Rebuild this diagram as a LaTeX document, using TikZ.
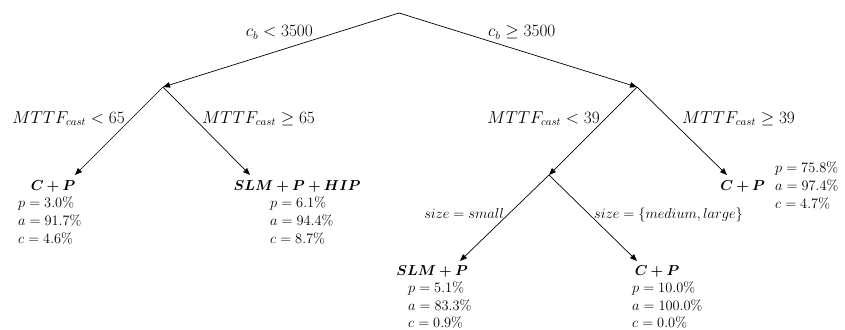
\documentclass[tikz,border=0pt]{standalone}
\usepackage{amsmath,amssymb,bm}
\usetikzlibrary{arrows.meta}
\begin{document}
\begin{tikzpicture}[x=1pt,y=-1pt,
  edge/.style={draw=black,line width=0.7pt,-{Triangle[length=7pt,width=5.5pt]}},
  lbl/.style={anchor=base,inner sep=0pt,font=\fontsize{16}{19}\selectfont},
  slbl/.style={anchor=base,inner sep=0pt,font=\fontsize{15}{18}\selectfont},
  ttl/.style={anchor=base,inner sep=0pt,font=\fontsize{15}{18}\selectfont},
  stat/.style={anchor=base west,inner sep=0pt,font=\fontsize{15}{18}\selectfont}]
\useasboundingbox (0,0) rectangle (845,329);
% internal points
\coordinate (root) at (399,13);
\coordinate (n1) at (163,87);
\coordinate (n2) at (637,87);
\coordinate (n3) at (549,175);
% leaf arrow tips
\coordinate (t1) at (75,175);
\coordinate (t2) at (250,175);
\coordinate (t3) at (727,175);
\coordinate (t4) at (460,261);
\coordinate (t5) at (637,261);
% edges
\draw[edge] (root) -- (n1);
\draw[edge] (root) -- (n2);
\draw[edge] (n1) -- (t1);
\draw[edge] (n1) -- (t2);
\draw[edge] (n2) -- (n3);
\draw[edge] (n2) -- (t3);
\draw[edge] (n3) -- (t4);
\draw[edge] (n3) -- (t5);
% edge labels
\node[lbl,anchor=base east] (l1) at (313,37) {$c_b < 3500$};
\node[lbl,anchor=base west] (l2) at (488,37) {$c_b \geq 3500$};
\node[lbl,anchor=base east] (l3) at (125,123) {$MTTF_{cast} < 65$};
\node[lbl,anchor=base west] (l4) at (202,123) {$MTTF_{cast} \geq 65$};
\node[lbl,anchor=base east] (l5) at (600,123) {$MTTF_{cast} < 39$};
\node[lbl,anchor=base west] (l6) at (682,123) {$MTTF_{cast} \geq 39$};
\node[slbl,anchor=base east] (l7) at (504,218) {$size = small$};
\node[slbl,anchor=base west] (l8) at (594,218) {$size = \{medium, large\}$};
% leaf 1
\node[ttl] (a0) at (53,190) {$\bm{C+P}$};
\node[stat] (a1) at (18,207) {$p = 3.0\%$};
\node[stat] (a2) at (18,225) {$a = 91.7\%$};
\node[stat] (a3) at (18,243) {$c = 4.6\%$};
% leaf 2
\node[ttl] (b0) at (297,190) {$\bm{SLM+P+HIP}$};
\node[stat] (b1) at (270,207) {$p = 6.1\%$};
\node[stat] (b2) at (270,225) {$a = 94.4\%$};
\node[stat] (b3) at (270,243) {$c = 8.7\%$};
% leaf 3
\node[ttl,anchor=base east] (c0) at (765,190) {$\bm{C+P}$};
\node[stat] (c1) at (775,172) {$p = 75.8\%$};
\node[stat] (c2) at (775,190) {$a = 97.4\%$};
\node[stat] (c3) at (775,208) {$c = 4.7\%$};
% leaf 4
\node[ttl] (d0) at (432,275) {$\bm{SLM+P}$};
\node[stat] (d1) at (408,292.5) {$p = 5.1\%$};
\node[stat] (d2) at (408,310) {$a = 83.3\%$};
\node[stat] (d3) at (408,327) {$c = 0.9\%$};
% leaf 5
\node[ttl] (e0) at (657,275) {$\bm{C+P}$};
\node[stat] (e1) at (632,292.5) {$p = 10.0\%$};
\node[stat] (e2) at (632,310) {$a = 100.0\%$};
\node[stat] (e3) at (632,327) {$c = 0.0\%$};
\end{tikzpicture}
\end{document}
